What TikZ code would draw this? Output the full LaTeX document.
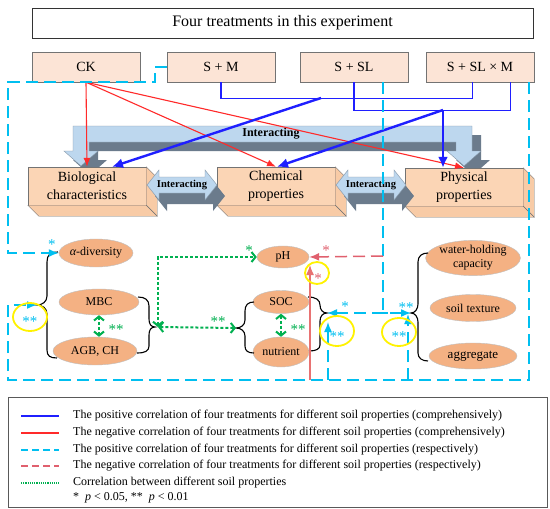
\documentclass[tikz,border=0pt]{standalone}
\usepackage{fontspec}
\setmainfont{Liberation Serif}
\usetikzlibrary{arrows.meta,calc,shapes.geometric}
\definecolor{cyanL}{HTML}{00BFF0}
\definecolor{redL}{HTML}{FF2A2A}
\definecolor{blueL}{HTML}{1F1FFF}
\definecolor{pinkL}{HTML}{E0606E}
\definecolor{pinkS}{HTML}{E87272}
\definecolor{greenL}{HTML}{00B050}
\definecolor{boxfill}{HTML}{FCE4D6}
\definecolor{cubefill}{HTML}{FBD5B5}
\definecolor{cubeside}{HTML}{F8CBA6}
\definecolor{ellfill}{HTML}{F4B183}
\definecolor{arrblue}{HTML}{BDD7EE}
\definecolor{arrgray}{HTML}{6B7B8C}
\tikzset{
  treat/.style={draw=black!55, fill=boxfill, minimum width=108pt, minimum height=30pt, inner sep=0pt, font=\fontsize{14}{16}\selectfont},
  front/.style={draw=black!55, fill=cubefill, minimum width=118pt, minimum height=38pt, inner sep=0pt, align=center, font=\fontsize{14}{18}\selectfont},
  side/.style={draw=black!55, fill=cubeside},
  ell/.style={ellipse, draw=black!25, fill=ellfill, inner sep=0pt, align=center, font=\fontsize{12}{14}\selectfont},
  inter/.style={inner sep=0pt, font=\fontsize{10.5}{12}\selectfont\bfseries},
  redline/.style={draw=redL, line width=1.1pt, -{Latex[length=9pt,width=7pt]}},
  bluethin/.style={draw=blueL, line width=1.2pt},
  bluethick/.style={draw=blueL, line width=2.4pt, -{Latex[length=11pt,width=10pt]}},
  cyand/.style={draw=cyanL, line width=1.5pt, dash pattern=on 12pt off 6pt},
  cyanhead/.style={-{Latex[length=10pt,width=8pt]}},
  pinkd/.style={draw=pinkL, line width=1.5pt, dash pattern=on 12pt off 6pt, -{Latex[length=10pt,width=8pt]}},
  pinks/.style={draw=pinkS, line width=1.3pt, -{Latex[length=10pt,width=8pt]}},
  gdot/.style={draw=greenL, line width=2pt, dash pattern=on 3pt off 2pt},
  gtip/.style={{Straight Barb[length=4pt,width=10pt]}-{Straight Barb[length=4pt,width=10pt]}},
  brace/.style={draw=black, line width=1.1pt},
  star/.style={inner sep=0pt, yshift=-2pt, font=\fontsize{15}{15}\selectfont},
  ycirc/.style={draw=yellow, line width=1.8pt},
  legtext/.style={anchor=west, inner sep=0pt, font=\fontsize{12}{14}\selectfont},
}
\begin{document}
\begin{tikzpicture}[x=1pt,y=-1pt]
\useasboundingbox[fill=white] (0,0) rectangle (550,509);

% title and treatments
\node[draw=black!80, line width=0.8pt, minimum width=501pt, minimum height=30pt, inner sep=0pt, font=\fontsize{16}{18}\selectfont] (title) at (282.5,23) {Four treatments in this experiment};
\node[treat] (ck) at (86,67) {CK};
\node[treat] (sm) at (221,67) {S + M};
\node[treat] (ssl) at (354,67) {S + SL};
\node[treat] (sslm) at (480,67) {S + SL × M};

% big interacting U arrow
\begin{scope}[shift={(9,9)}]
\fill[arrgray] (73,126) -- (472,126) -- (472,151) -- (481,151) -- (464,166) -- (447,151) -- (456,151) -- (456,142) -- (89,142) -- (89,151) -- (98,151) -- (81,166) -- (64,151) -- (73,151) -- cycle;
\end{scope}
\filldraw[fill=arrblue, draw=arrblue!70!black, line width=0.4pt] (73,126) -- (472,126) -- (472,151) -- (481,151) -- (464,166) -- (447,151) -- (456,151) -- (456,142) -- (89,142) -- (89,151) -- (98,151) -- (81,166) -- (64,151) -- (73,151) -- cycle;
\node[inner sep=0pt, font=\fontsize{12}{14}\selectfont\bfseries] (itop) at (271,134) {Interacting};

% 3D boxes
\node[front] (bio) at (87,186) {Biological\\characteristics};
\node[front] (chem) at (276,186) {Chemical\\properties};
\node[front] (phys) at (464,187) {Physical\\properties};
\foreach \b in {bio,chem,phys}{
  \filldraw[side] (\b.north east) -- ++(11,11) -- ($(\b.south east)+(11,11)$) -- (\b.south east) -- cycle;
  \filldraw[side] (\b.south west) -- ++(11,11) -- ($(\b.south east)+(11,11)$) -- (\b.south east) -- cycle;
}

% small interacting arrows
\foreach \a in {147,336}{
  \begin{scope}[shift={(\a,185)}]
    \fill[arrgray] (8,11) -- (20,-4) -- (20,3) -- (66,3) -- (66,-4) -- (78,11) -- (66,26) -- (66,19) -- (20,19) -- (20,26) -- cycle;
    \filldraw[fill=arrblue, draw=arrblue!70!black, line width=0.4pt] (0,0) -- (12,-15) -- (12,-8) -- (58,-8) -- (58,-15) -- (70,0) -- (58,15) -- (58,8) -- (12,8) -- (12,15) -- cycle;
  \end{scope}
}
\node[inter] (i1) at (182,185) {Interacting};
\node[inter] (i2) at (371,185) {Interacting};

% connectors from treatments
\draw[redline] (ck.south) -- (bio.north);
\draw[redline] (ck.south) -- (chem.north);
\draw[redline] (ck.south) -- (phys.north);

\draw[bluethin] (sm.south) -- ++(0,16) -| ($(sslm.south west)+(47,0)$);
\coordinate (bj1) at (321,98);
\draw[bluethick] (bj1) -- ($(bio.north)+(25,0)$);
\draw[bluethin] (ssl.south) -- ++(0,28) -| ($(sslm.south west)+(85,0)$);
\coordinate (bj2) at (443,110);
\draw[bluethick] (bj2) -- ($(chem.north)+(1,0)$);
\draw[bluethick] (bj2) -- (bj2 |- phys.north);

% ellipses
\node[ell, minimum width=74pt, minimum height=28pt] (alpha) at (96,253) {{\itshape α}-diversity};
\node[ell, minimum width=80pt, minimum height=26pt] (mbc) at (99,302) {MBC};
\node[ell, minimum width=84pt, minimum height=28pt] (agb) at (95,351) {AGB, CH};
\node[ell, minimum width=52pt, minimum height=22pt] (ph) at (283,257) {pH};
\node[ell, minimum width=56pt, minimum height=23pt] (soc) at (281,302) {SOC};
\node[ell, minimum width=56pt, minimum height=30pt] (nut) at (281,352) {nutrient};
\node[ell, minimum width=92pt, minimum height=32pt] (whc) at (473,258) {water-holding\\capacity};
\node[ell, minimum width=86pt, minimum height=27pt] (tex) at (473,308) {soil texture};
\node[ell, minimum width=88pt, minimum height=26pt, font=\fontsize{13}{14}\selectfont] (agg) at (473,356) {aggregate};

% braces
\coordinate (lbt) at (37,305);
\coordinate (mbt) at (155,327);
\coordinate (slt) at (236,328);
\coordinate (srt) at (327,313);
\coordinate (pbt) at (411,313);
\draw[brace] (58,252) .. controls (50,252) and (47,255) .. (47,262) -- (47,296) .. controls (47,302) and (42,305) .. (lbt) .. controls (42,305) and (47,308) .. (47,314) -- (47,350) .. controls (47,356) and (50,358) .. (57,358);
\draw[brace] (138,297) .. controls (145,297) and (149,300) .. (149,306) -- (149,319) .. controls (149,324) and (151,327) .. (mbt) .. controls (151,327) and (149,330) .. (149,335) -- (149,346) .. controls (149,351) and (145,353) .. (137,353);
\draw[brace] (254,302) .. controls (248,302) and (245,305) .. (245,311) -- (245,320) .. controls (245,325) and (241,328) .. (slt) .. controls (241,328) and (245,331) .. (245,336) -- (245,346) .. controls (245,351) and (248,353) .. (254,353);
\draw[brace] (308,297) .. controls (316,297) and (320,300) .. (320,305) .. controls (320,310) and (323,313) .. (srt) .. controls (323,313) and (320,316) .. (320,321) -- (320,345) .. controls (320,349) and (316,351) .. (309,351);
\draw[brace] (428,253) .. controls (422,253) and (418,256) .. (418,262) -- (418,304) .. controls (418,309) and (415,313) .. (pbt) .. controls (415,313) and (418,317) .. (418,322) -- (418,353) .. controls (418,358) and (422,361) .. (428,361);

% cyan dashed frame and arrows
\draw[cyand, cyanhead] (sm.west) -- ++(-12,0) |- (8,82) |- (alpha.west);
\draw[cyand, cyanhead] ($(sslm.south east)+(-5,0)$) |- (8,380) |- (lbt);
\draw[cyand] ($(ssl.south)+(29,0)$) -- (383,313);
\draw[cyanL, line width=1.5pt] (378,313) -- (388,313);
\draw[cyand, {Latex[length=10pt,width=8pt]}-{Latex[length=10pt,width=8pt]}] (srt) -- (pbt);
\coordinate (b1) at (328,380);
\coordinate (b2) at (408,380);
\draw[cyand, cyanhead] (b1) -- (328,322);
\draw[cyand, cyanhead] (b2) -- (408,314);

% red to pH
\draw[pinkd] (383,256) -- (ph.east);
\coordinate (b0) at (310,380);
\draw[pinks] (b0) -- (310,265);

% green correlations
\coordinate (xk) at (158,327);
\draw[gdot, gtip] (xk) -- (slt);
\draw[gdot, gtip] (xk) |- (ph.west);
\draw[gdot, gtip] (mbc.south) -- (mbc.south |- agb.north);
\draw[gdot, gtip] (soc.south) -- (soc.south |- nut.north);

% stars
\node[star, text=cyanL] (s1) at (52,243) {*};
\node[star, text=cyanL] (s2) at (30,320) {**};
\node[star, text=greenL] (s3) at (116,328) {**};
\node[star, text=greenL] (s4) at (218,320) {**};
\node[star, text=greenL] (s5) at (249,249) {*};
\node[star, text=pinkL] (s6) at (326,249) {*};
\node[star, text=pinkL] (s7) at (318,277) {*};
\node[star, text=cyanL] (s8) at (345,305) {*};
\node[star, text=cyanL] (s9) at (337,335) {**};
\node[star, text=cyanL] (s10) at (406,306) {**};
\node[star, text=cyanL] (s11) at (399,335) {**};
\node[star, text=greenL] (s12) at (298,328) {**};

% yellow circles
\draw[ycirc] (30,317) ellipse [x radius=17, y radius=14];
\draw[ycirc] (317,273) ellipse [x radius=12, y radius=11];
\draw[ycirc] (337,331) ellipse [x radius=17, y radius=15];
\draw[ycirc] (399,332) ellipse [x radius=17, y radius=14];

% legend
\node[draw=black!65, line width=0.8pt, minimum width=539pt, minimum height=110pt, inner sep=0pt] (legend) at (277.5,452.5) {};
\draw[blueL, line width=1.5pt] (21,416) -- (59,416);
\node[legtext] (l1) at (73,416) {The positive correlation of four treatments for different soil properties (comprehensively)};
\draw[redL, line width=1.2pt] (21,433) -- (59,433);
\node[legtext] (l2) at (73,433) {The negative correlation of four treatments for different soil properties (comprehensively)};
\draw[cyanL, line width=1.5pt, dash pattern=on 7pt off 4pt] (21,450) -- (59,450);
\node[legtext] (l3) at (73,450) {The positive correlation of four treatments for different soil properties (respectively)};
\draw[pinkL, line width=1.5pt, dash pattern=on 7pt off 4pt] (21,466) -- (59,466);
\node[legtext] (l4) at (73,466) {The negative correlation of four treatments for different soil properties (respectively)};
\draw[greenL, line width=1.2pt, dash pattern=on 1.2pt off 1pt] (21,483) -- (59,483);
\node[legtext] (l5) at (73,483) {Correlation between different soil properties};
\node[legtext] (l6) at (73,498) {*\enspace\textit{p} < 0.05, **\enspace\textit{p} < 0.01};
\end{tikzpicture}
\end{document}
